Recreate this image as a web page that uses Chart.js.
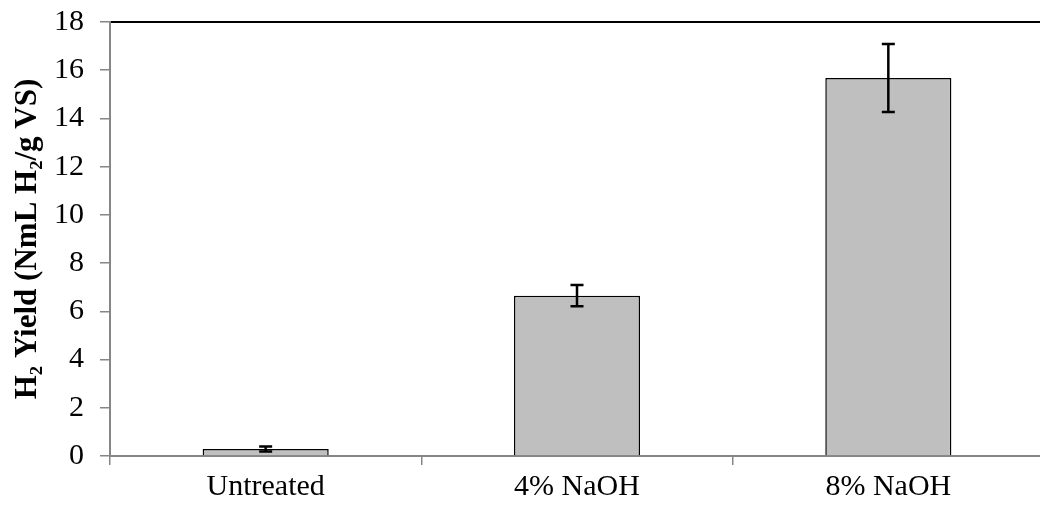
<!DOCTYPE html>
<html>
<head>
<meta charset="utf-8">
<script src="https://cdn.jsdelivr.net/npm/chart.js@4/dist/chart.umd.min.js"></script>
<style>
  html, body { margin: 0; padding: 0; background: #fff; overflow: hidden; }
  #wrap { width: 1044px; height: 518px; position: relative; }
</style>
</head>
<body>
<div id="wrap"><canvas id="yieldChart"></canvas></div>
<script>
// H2 yield per pretreatment
const categories = ["Untreated", "4% NaOH", "8% NaOH"];
const yieldMean  = [0.29, 6.65, 15.68];
const yieldErr   = [0.10, 0.44, 1.41];
const yTicks     = [0, 2, 4, 6, 8, 10, 12, 14, 16, 18];

const AXIS_GREY = "#868686";
const FONT      = "'Liberation Serif', 'Times New Roman', serif";

// draws the +/- error whiskers on each bar
const errorBars = {
  id: "errorBars",
  afterDatasetsDraw(chart) {
    const { ctx, scales } = chart;
    const meta = chart.getDatasetMeta(0);
    ctx.save();
    ctx.strokeStyle = "#000";
    ctx.lineWidth   = 2.5;
    meta.data.forEach((bar, i) => {
      const x    = bar.x;
      const yHi  = scales.y.getPixelForValue(yieldMean[i] + yieldErr[i]);
      const yLo  = scales.y.getPixelForValue(yieldMean[i] - yieldErr[i]);
      const cap  = 6.5;
      ctx.beginPath();
      ctx.moveTo(x, yHi); ctx.lineTo(x, yLo);
      ctx.moveTo(x - cap, yHi); ctx.lineTo(x + cap, yHi);
      ctx.moveTo(x - cap, yLo); ctx.lineTo(x + cap, yLo);
      ctx.stroke();
    });
    ctx.restore();
  }
};

const ctx = document.getElementById("yieldChart").getContext("2d");
new Chart(ctx, {
  type: "bar",
  data: {
    labels: categories,
    datasets: [{
      data: yieldMean,
      backgroundColor: "#BFBFBF",
      borderColor: "#000",
      borderWidth: 1.5,
      categoryPercentage: 1,
      barPercentage: 0.405
    }]
  },
  options: {
    responsive: true,
    maintainAspectRatio: false,
    animation: false,
    layout: { padding: { top: 22, right: 0, left: 0, bottom: 6 } },
    plugins: {
      legend:  { display: false },
      tooltip: { enabled: false }
    },
    scales: {
      x: {
        afterFit: axis => { axis.height = 56; },
        grid: {
          display: true,
          offset: true,
          drawOnChartArea: false,
          color: AXIS_GREY,
          tickLength: 9,
          lineWidth: 1.5
        },
        border: { color: AXIS_GREY, width: 2 },
        ticks: {
          color: "#000",
          padding: 4,
          font: { family: FONT, size: 30 }
        }
      },
      top: {
        position: "top",
        type: "category",
        labels: categories,
        afterFit: axis => { axis.height = 0; },
        grid: { display: false, drawTicks: false },
        ticks: { display: false },
        border: { color: "#000", width: 2 }
      },
      y: {
        min: 0,
        max: 18,
        afterBuildTicks: axis => { axis.ticks = yTicks.map(v => ({ value: v })); },
        afterFit: axis => {
          axis.width = 110;
          axis.paddingTop = 0;
          axis.paddingBottom = 0;
        },
        grid: {
          display: true,
          drawOnChartArea: false,
          color: AXIS_GREY,
          tickLength: 10,
          lineWidth: 1.5
        },
        border: { color: AXIS_GREY, width: 2 },
        ticks: {
          color: "#000",
          padding: 16,
          font: { family: FONT, size: 30 }
        },
        title: {
          display: true,
          text: "H\u2082 Yield (NmL H\u2082/g VS)",
          color: "#000",
          padding: { top: 9, bottom: 0 },
          font: { family: FONT, size: 31, weight: "bold" }
        }
      }
    }
  },
  plugins: [errorBars]
});
</script>
</body>
</html>
